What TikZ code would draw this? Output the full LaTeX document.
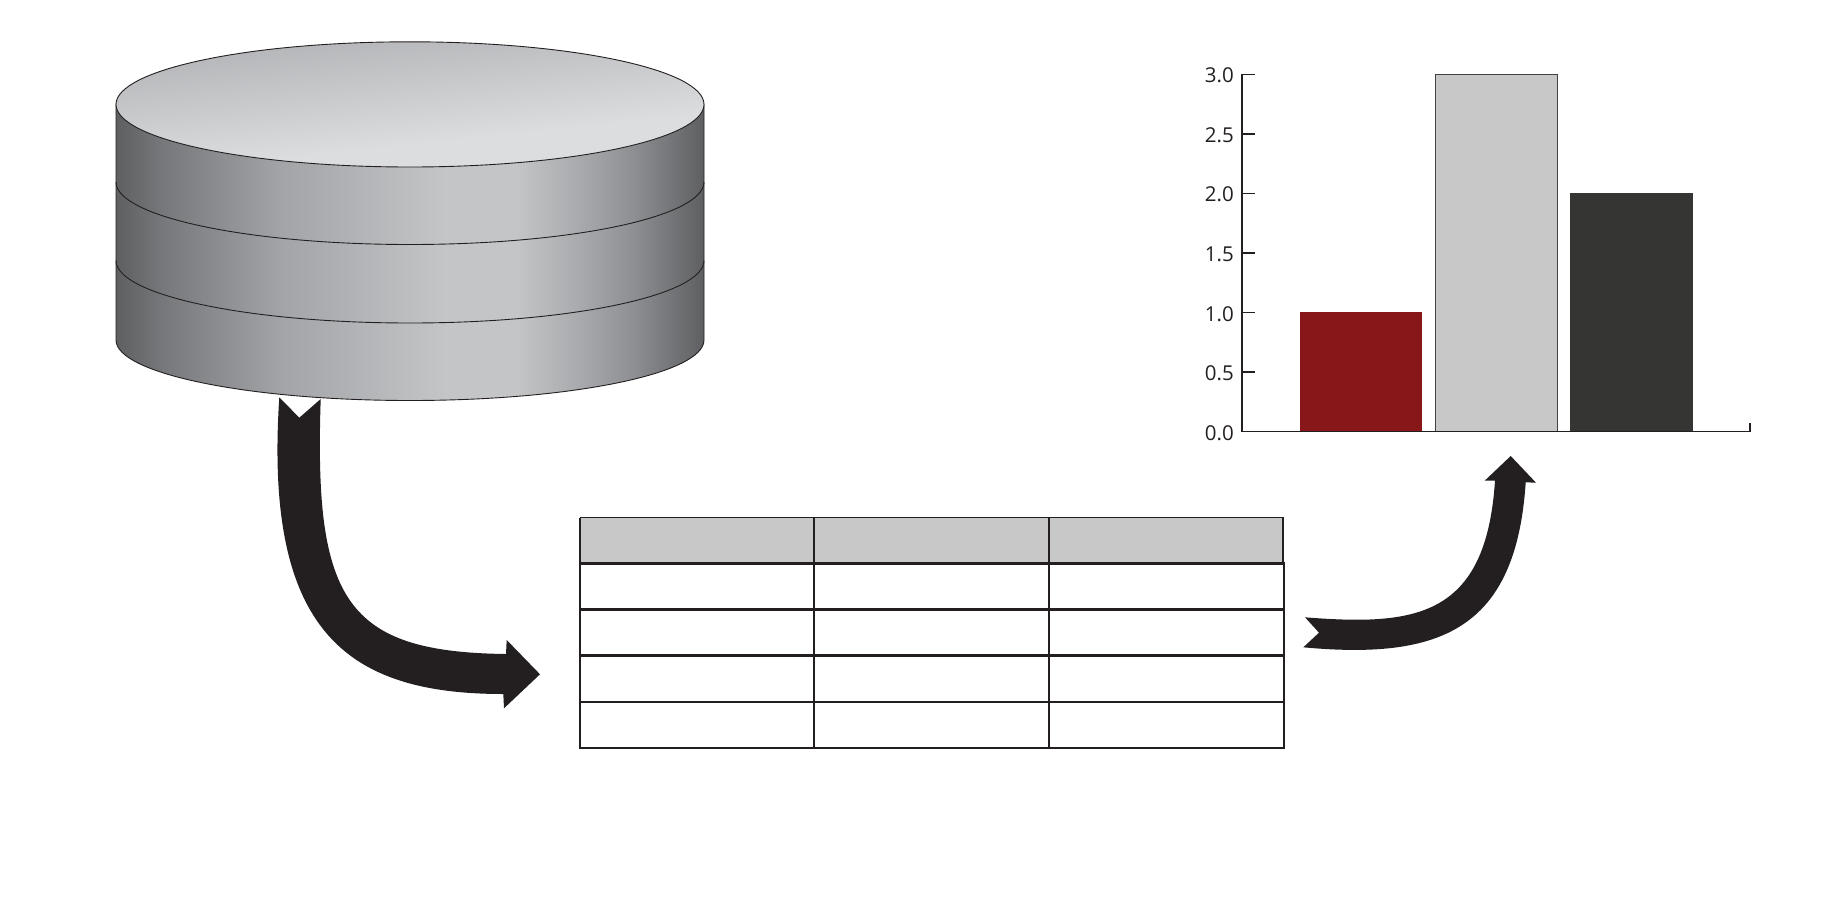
\documentclass[tikz,border=0pt]{standalone}
\usepackage{fontspec}
\setmainfont{Open Sans}
\definecolor{ink}{HTML}{231F20}
\definecolor{headgray}{HTML}{C8C8C8}
\definecolor{barred}{HTML}{871719}
\definecolor{bardark}{HTML}{353533}
\definecolor{cA}{HTML}{5E5F61}
\definecolor{cB}{HTML}{77787B}
\definecolor{cC}{HTML}{A3A4A8}
\definecolor{cD}{HTML}{C4C5C7}
\definecolor{cF}{HTML}{ABACAF}
\definecolor{cE}{HTML}{8E8F93}
\definecolor{tA}{HTML}{AEAFB2}
\definecolor{tB}{HTML}{DCDDDF}
\pgfdeclarehorizontalshading{cylside}{100bp}{
 color(0bp)=(cA); color(25bp)=(cA); color(29bp)=(cB); color(39bp)=(cC); color(53bp)=(cD); color(59bp)=(cD); color(64bp)=(cF); color(69bp)=(cE); color(75bp)=(cA); color(100bp)=(cA)}
\pgfdeclareverticalshading{cyltop}{100bp}{
 color(0bp)=(tB); color(38bp)=(tB); color(78bp)=(tA); color(100bp)=(tA)}
\tikzset{
 rim/.style={draw=ink,line width=0.9pt},
 bararrow/.style={fill=ink,draw=none},
 gridline/.style={draw=ink,line width=2.3pt},
 axisline/.style={draw=ink,line width=1.5pt},
 ticklabel/.style={font=\fontsize{20.5}{22}\selectfont,text=ink,anchor=east,inner sep=0pt},
}
\begin{document}
\begin{tikzpicture}[x=1pt,y=-1pt]
\useasboundingbox (0,0) rectangle (1840,900);
% cylinder
\path[shading=cylside] (116,104.4) -- (116,340) arc[start angle=180,end angle=0,x radius=294,y radius=60.5] -- (704,104.4) -- cycle;
\draw[rim] (116,104.4) -- (116,340) arc[start angle=180,end angle=0,x radius=294,y radius=60.5] -- (704,104.4);
\draw[rim] (116,182) arc[start angle=180,end angle=0,x radius=294,y radius=62.5];
\draw[rim] (116,260.5) arc[start angle=180,end angle=0,x radius=294,y radius=62.5];
\path[shading=cyltop,shading angle=6] (410,104.4) ellipse[x radius=294,y radius=62.6];
\draw[rim] (410,104.4) ellipse[x radius=294,y radius=62.6];
% table
\fill[headgray] (580,517.6) rectangle (1283,563.6);
\draw[gridline,line width=1.6pt] (580,517.6) -- (1283,517.6) -- (1283,563.6);
\draw[gridline] (580,517.6) -- (580,748) -- (1284,748) -- (1284,563.6) -- (580,563.6);
\foreach \yy in {609.6,655.6,702} \draw[gridline] (580,\yy) -- (1284,\yy);
\foreach \xx in {814.3,1049} \draw[gridline] (\xx,517.6) -- (\xx,748);
% chart bars
\fill[barred] (1300,312) rectangle (1422,431.6);
\draw[fill=headgray,draw=ink!85,line width=0.8pt] (1435.7,74.4) rectangle (1557.5,431.6);
\fill[bardark] (1570,192.6) rectangle (1693,431.6);
% axes
\draw[axisline] (1255,74.4) -- (1242,74.4) -- (1242,431.6) -- (1750,431.6) -- (1750,422.6);
\foreach \yy/\lab in {74.4/3.0,133.9/2.5,193.4/2.0,253/1.5,312.6/1.0,372/0.5,431.6/0.0}{
  \draw[axisline] (1242,\yy) -- (1255,\yy);
  \node[ticklabel] at (1234,\yy+1.3) {\lab};
}
% arrow 1
\path[bararrow] (279.3,397.3) -- (299.3,417.7) -- (320.7,399)
 .. controls (314,600) and (345,652) .. (506,654)
 -- (506.7,640) -- (540,674.3) -- (504,708.3) -- (503.3,694)
 .. controls (345,694) and (264,630) .. (279.3,397.3) -- cycle;
% arrow 2
\path[bararrow] (1305,617.3) -- (1319,632.7) -- (1303.3,647.3)
 .. controls (1440,660) and (1516,630) .. (1525.7,482.3)
 -- (1536,482.7) -- (1510.7,456) -- (1484.7,480.7) -- (1495,480.7)
 .. controls (1486,618) and (1415,626) .. (1305,617.3) -- cycle;
\end{tikzpicture}
\end{document}
